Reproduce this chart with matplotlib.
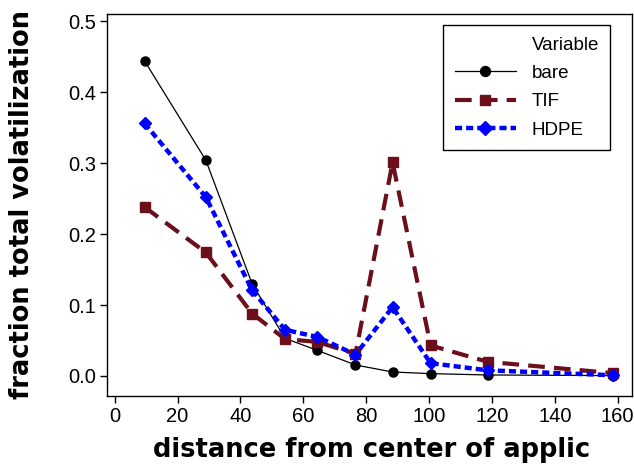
import matplotlib
matplotlib.use("Agg")
import matplotlib.pyplot as plt
from matplotlib.lines import Line2D

# distance from center of application
distance = [9.5, 29, 43.7, 54.2, 64.5, 76.6, 88.4, 100.5, 118.6, 158.5]

bare = [0.444, 0.304, 0.130, 0.053, 0.036, 0.0155, 0.0056, 0.0033, 0.0014, 0.0005]
tif = [0.238, 0.174, 0.088, 0.052, 0.048, 0.031, 0.301, 0.043, 0.020, 0.004]
hdpe = [0.356, 0.252, 0.121, 0.065, 0.055, 0.030, 0.097, 0.018, 0.008, 0.001]

xticks = [0, 20, 40, 60, 80, 100, 120, 140, 160]
yticks = [0.0, 0.1, 0.2, 0.3, 0.4, 0.5]

plt.rcParams['font.family'] = ['Liberation Sans', 'DejaVu Sans']

fig = plt.figure(figsize=(6.34, 4.69), dpi=100)
ax = fig.add_axes([0.169, 0.156, 0.828, 0.814])

ax.plot(distance, bare, color='black', lw=0.9, marker='o', ms=6.5, label='bare')
ax.plot(distance, tif, color='#6b0f1a', lw=3, ls=(0, (4, 2.2)), marker='s', ms=7, label='TIF')
ax.plot(distance, hdpe, color='#0000ff', lw=3.2, ls=(0, (1.6, 0.9)), marker='D', ms=6.5, label='HDPE')

ax.set_xlim(-2.4, 164.6)
ax.set_ylim(-0.028, 0.510)
ax.set_xticks(xticks)
ax.set_yticks(yticks)
ax.set_yticklabels([f"{v:.1f}" for v in yticks])
ax.tick_params(direction='out', length=5, width=1, labelsize=14.5, colors='black', pad=3)
for s in ax.spines.values():
    s.set_linewidth(1)

ax.set_xlabel("distance from center of applic", fontsize=18.5, fontweight='bold',
              family=['DejaVu Sans'], va='center')
ax.xaxis.set_label_coords(0.503, -0.141)
ax.set_ylabel("fraction total volatilization", fontsize=18.5, fontweight='bold',
              family=['DejaVu Sans'], va='center')
ax.yaxis.set_label_coords(-0.162, 0.5)

handles, labels = ax.get_legend_handles_labels()
blank = Line2D([], [], color='none')
leg = ax.legend([blank] + handles, ['Variable'] + labels, loc='upper right',
                bbox_to_anchor=(0.958, 0.971), borderaxespad=0, fontsize=13.5,
                handlelength=3.3, handletextpad=0.8, markerscale=1.1,
                frameon=True, fancybox=False, edgecolor='black', framealpha=1,
                borderpad=0.6, labelspacing=0.6)
leg.get_frame().set_linewidth(1)

fig.savefig("out.png", dpi=100)
